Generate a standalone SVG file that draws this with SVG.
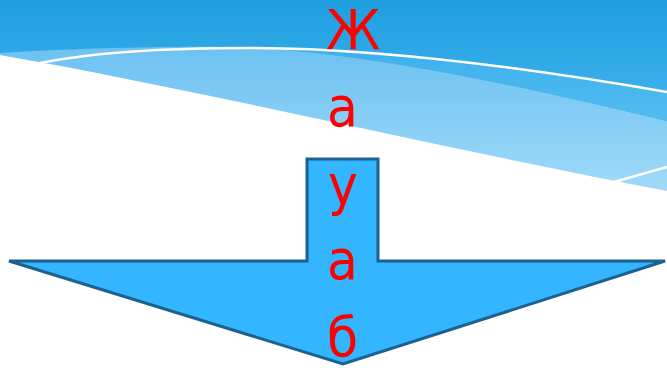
<svg xmlns="http://www.w3.org/2000/svg" width="667" height="368" viewBox="0 0 667 368">
  <style>
    .wline { fill: none; stroke: #FFFFFF; stroke-width: 2.5; }
    .arrow { fill: #33B5FF; stroke: #1D6190; stroke-width: 3; stroke-linejoin: miter; }
    .letter { font-family: "DejaVu Sans Condensed", "DejaVu Sans", sans-serif; font-stretch: condensed; font-size: 56px; fill: #FF0000; text-anchor: start; }
  </style>
  <defs>
    <linearGradient id="gTop" gradientUnits="userSpaceOnUse" x1="0" y1="0" x2="0" y2="125">
      <stop offset="0" stop-color="#1E9FE0"/>
      <stop offset="1" stop-color="#44B4EE"/>
    </linearGradient>
    <linearGradient id="gMid" gradientUnits="userSpaceOnUse" x1="0" y1="48" x2="0" y2="122">
      <stop offset="0" stop-color="#3CB0EC"/>
      <stop offset="1" stop-color="#52BCF1"/>
    </linearGradient>
    <linearGradient id="gLight" gradientUnits="userSpaceOnUse" x1="0" y1="45" x2="0" y2="192">
      <stop offset="0" stop-color="#6CC1F1"/>
      <stop offset="1" stop-color="#A0DAF9"/>
    </linearGradient>
  </defs>

  <g id="background">
    <rect x="0" y="0" width="667" height="368" fill="#FFFFFF"/>
    <path d="M0,0 H667 V191 C450,150 200,90 0,55 Z" fill="url(#gLight)"/>
    <path d="M0,0 H667 V121 C540,90 380,55 250,47 C160,46 80,48 0,53 Z" fill="url(#gTop)"/>
    <path d="M250,48 C380,48 540,70 667,92 V121 C540,90 380,55 250,47 Z" fill="url(#gMid)"/>
    <path class="wline" d="M40,63 C90,53 160,48 250,48 C380,48 540,70 667,92"/>
    <path class="wline" d="M614,182 L667,167"/>
  </g>

  <g id="arrow">
    <polygon class="arrow" points="307,159 378,159 378,261 665,261 343,364 9,261 307,261"/>
  </g>

  <g id="label">
    <text class="letter" x="326" y="49">Ж</text>
    <text class="letter" x="327" y="126">а</text>
    <text class="letter" x="328" y="204">у</text>
    <text class="letter" x="327" y="279">а</text>
    <text class="letter" x="327" y="356">б</text>
  </g>
</svg>
